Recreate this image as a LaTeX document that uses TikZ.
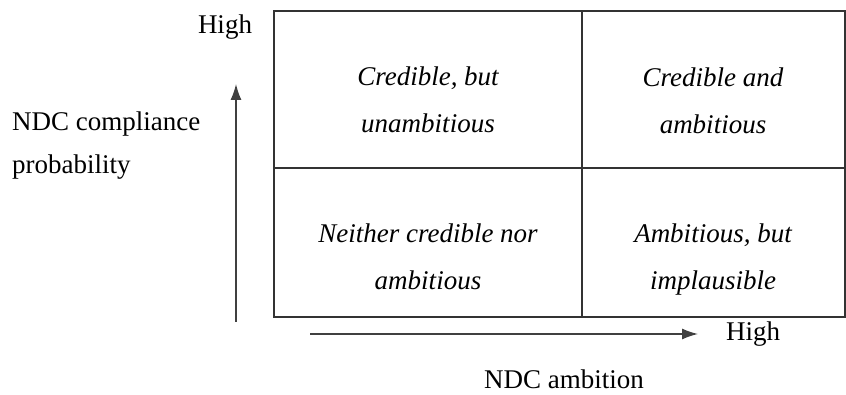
\documentclass[tikz,border=0pt]{standalone}
\usepackage{fontspec}
\setmainfont{Liberation Serif}
\usetikzlibrary{arrows.meta,positioning}

\begin{document}
\begin{tikzpicture}[
  x=1pt, y=-1pt,
  cell/.style={inner sep=0pt, align=center, font=\fontsize{27}{47}\selectfont\itshape},
  lbl/.style={inner sep=0pt, font=\fontsize{27}{43}\selectfont},
  arr/.style={-{Latex[length=16pt, width=11pt]}, line width=1.3pt, black!75},
  frame/.style={line width=2pt, black!80}
]
  \useasboundingbox (0,0) rectangle (846,395);

  % grid
  \coordinate (nw) at (274,11);
  \coordinate (se) at (845,317);
  \coordinate (mtop) at (582,11);
  \coordinate (mbot) at (582,317);
  \coordinate (mleft) at (274,168);
  \coordinate (mright) at (845,168);
  \draw[frame] (nw) rectangle (se);
  \draw[frame] (mleft) -- (mright);
  \draw[frame] (mtop) -- (mbot);

  % quadrants
  \node[cell] (ul) at (428,100) {Credible, but\\unambitious};
  \node[cell] (ur) at (713,101) {Credible and\\ambitious};
  \node[cell] (ll) at (428,257) {Neither credible nor\\ambitious};
  \node[cell] (lr) at (713,260) {Ambitious, but\\implausible};

  % axes
  \coordinate (ybot) at (236,322);
  \coordinate (ytop) at (236,84);
  \coordinate (xleft) at (310,334);
  \coordinate (xright) at (698,334);
  \draw[arr] (ybot) -- (ytop);
  \draw[arr] (xleft) -- (xright);

  \node[lbl] (yhigh) at (225,27) {High};
  \node[lbl, anchor=west, align=left] (ytitle) at (12,146) {NDC compliance\\probability};
  \node[lbl] (xhigh) at (753,334) {High};
  \node[lbl] (xtitle) at (564,379) {NDC ambition};
\end{tikzpicture}
\end{document}
